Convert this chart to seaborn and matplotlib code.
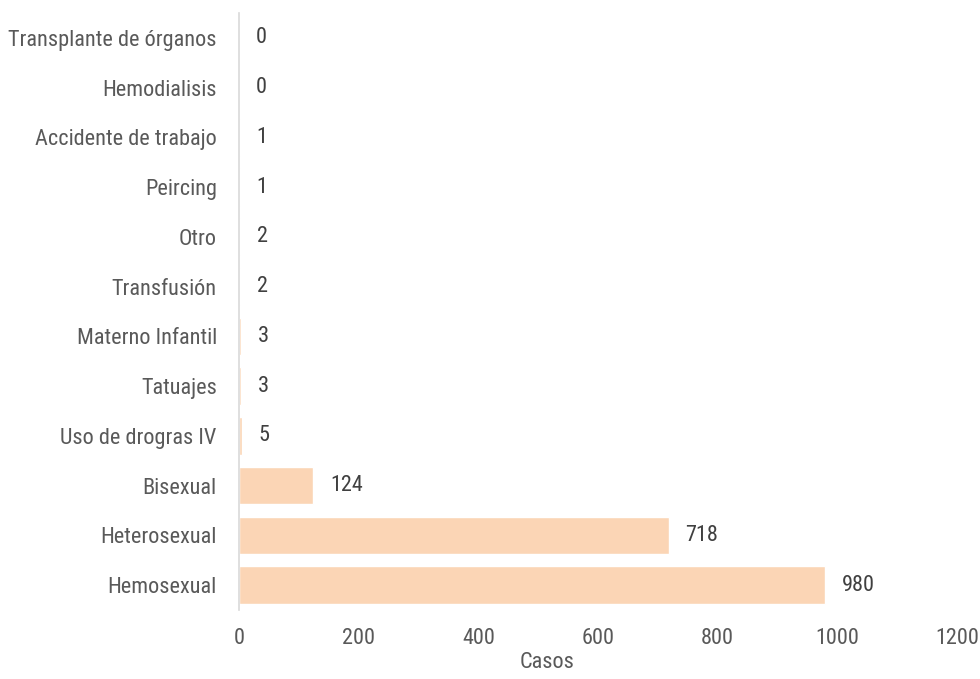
import matplotlib
matplotlib.use("Agg")
import matplotlib.pyplot as plt
import seaborn as sns
import pandas as pd
from matplotlib import font_manager

categorias = ["Transplante de órganos", "Hemodialisis", "Accidente de trabajo", "Peircing",
              "Otro", "Transfusión", "Materno Infantil", "Tatuajes", "Uso de drogras IV",
              "Bisexual", "Heterosexual", "Hemosexual"]
casos = [0, 0, 1, 1, 2, 2, 3, 3, 5, 124, 718, 980]
x_ticks = [0, 200, 400, 600, 800, 1000, 1200]

sns.set_theme(style="white")

# Prefer a narrow sans face; fall back to a regular one
fname = None
for key in ["LiberationSansNarrow-Regular", "RobotoCondensed-Regular", "Roboto_Condensed-Regular",
            "DejaVuSansCondensed.ttf"]:
    for f in font_manager.fontManager.ttflist:
        if key in f.fname:
            fname = f.fname
            break
    if fname:
        break

if fname and "DejaVu" not in fname:
    prop = font_manager.FontProperties(fname=fname)
    fs = 16
else:
    prop = font_manager.FontProperties(family=["Liberation Sans", "DejaVu Sans"])
    fs = 14
plt.rcParams["font.family"] = ["Liberation Sans", "DejaVu Sans"]

df = pd.DataFrame({"categoria": categorias, "casos": casos})

fig = plt.figure(figsize=(9.8, 6.79), dpi=100)
ax = fig.add_axes([0.2439, 0.1016, 0.7327, 0.8794])
sns.barplot(data=df, y="categoria", x="casos", color="#FBD5B5", saturation=1,
            width=0.75, ax=ax, order=categorias)

ax.set_xlim(0, 1200)
ax.set_xticks(x_ticks)
ax.set_xticklabels([str(t) for t in x_ticks])
ax.tick_params(axis="both", length=0, labelcolor="#595959")
ax.tick_params(axis="x", pad=13)
ax.tick_params(axis="y", pad=16)
for lab in ax.get_xticklabels() + ax.get_yticklabels():
    lab.set_fontproperties(prop)
    lab.set_fontsize(fs)
ax.set_xlabel("Casos", fontproperties=prop, fontsize=fs, color="#595959", labelpad=2)
ax.xaxis.label.set_x(0.429)
ax.set_ylabel("")

for s in ["top", "right", "bottom"]:
    ax.spines[s].set_visible(False)
ax.spines["left"].set_color("#D9D9D9")
ax.spines["left"].set_linewidth(1.2)

for i, v in enumerate(casos):
    ax.annotate(str(v), xy=(v, i), xytext=(12, 0), textcoords="offset points",
                va="center", ha="left", fontproperties=prop, fontsize=fs, color="#404040")

fig.savefig("out.png", dpi=100)
